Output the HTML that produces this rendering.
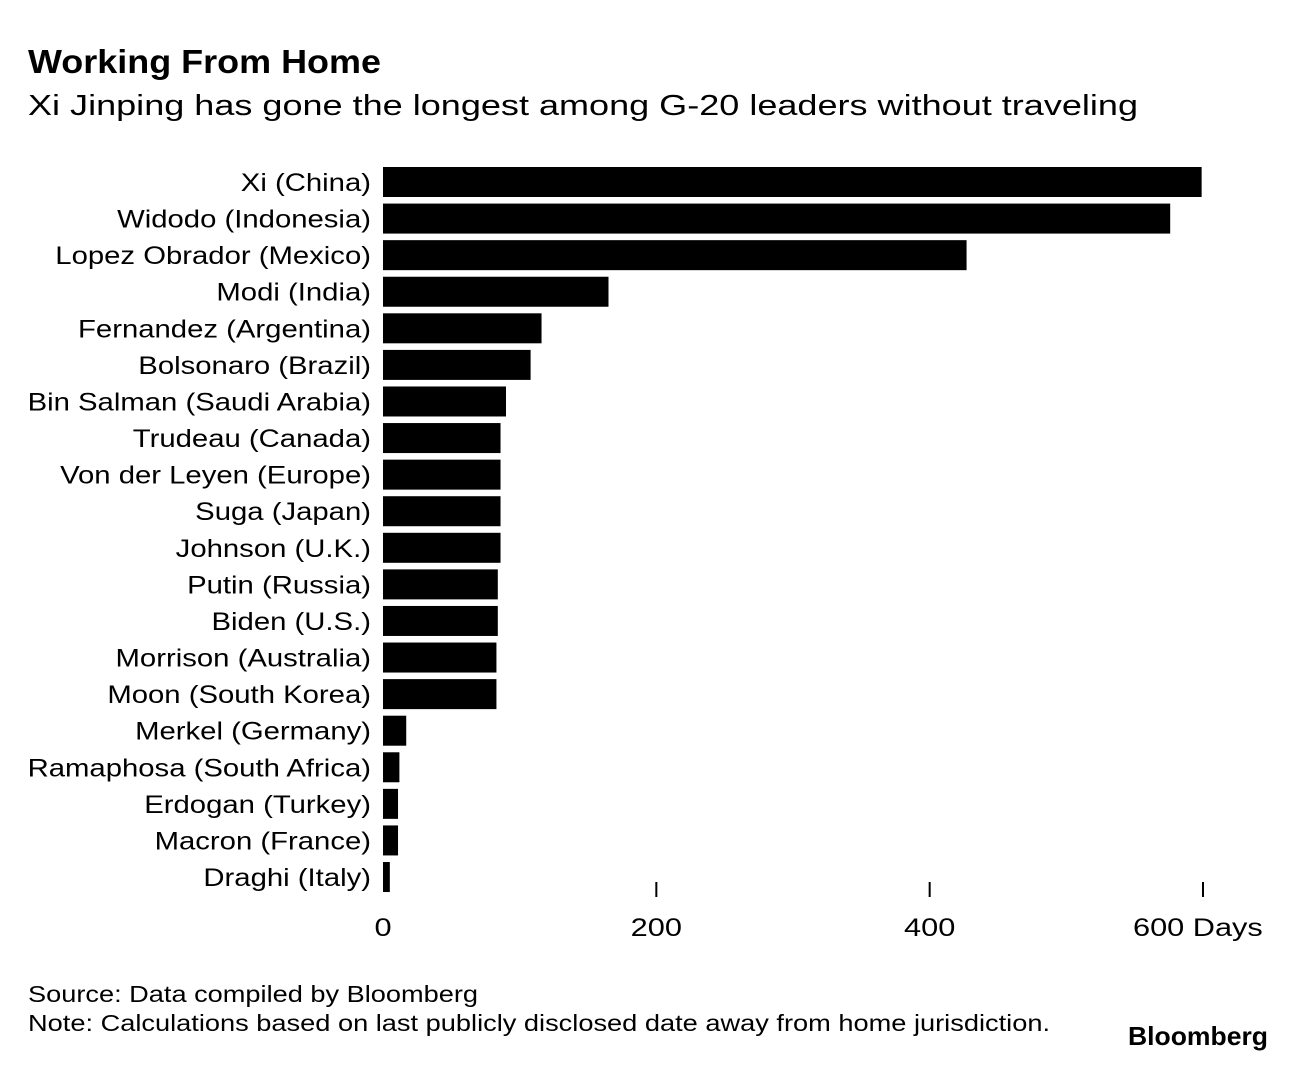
<!DOCTYPE html>
<html><head><meta charset="utf-8"><style>
body{margin:0;background:#fff;width:1296px;height:1062px;overflow:hidden;font-family:"Liberation Sans",sans-serif;color:#000}
</style></head><body>
<svg width="1296" height="1062">
<text x="28" y="73" font-size="33" font-weight="bold" textLength="353" lengthAdjust="spacingAndGlyphs">Working From Home</text>
<text x="28" y="115" font-size="29" textLength="1110" lengthAdjust="spacingAndGlyphs">Xi Jinping has gone the longest among G-20 leaders without traveling</text>
<g id="bars"></g>
<g id="axis"></g>
<text x="28" y="1002" font-size="23" textLength="450" lengthAdjust="spacingAndGlyphs">Source: Data compiled by Bloomberg</text>
<text x="28" y="1031" font-size="23" textLength="1022" lengthAdjust="spacingAndGlyphs">Note: Calculations based on last publicly disclosed date away from home jurisdiction.</text>
<text x="1128" y="1045" font-size="26" font-weight="bold" textLength="140" lengthAdjust="spacingAndGlyphs">Bloomberg</text>
</svg>
<script>
const leaders=["Xi (China)","Widodo (Indonesia)","Lopez Obrador (Mexico)","Modi (India)","Fernandez (Argentina)","Bolsonaro (Brazil)","Bin Salman (Saudi Arabia)","Trudeau (Canada)","Von der Leyen (Europe)","Suga (Japan)","Johnson (U.K.)","Putin (Russia)","Biden (U.S.)","Morrison (Australia)","Moon (South Korea)","Merkel (Germany)","Ramaphosa (South Africa)","Erdogan (Turkey)","Macron (France)","Draghi (Italy)"];
const days=[599,576,427,165,116,108,90,86,86,86,86,84,84,83,83,17,12,11,11,5];
const ticks=[0,200,400,600];
const tickLabels=["0","200","400","600 Days"];
const NS="http://www.w3.org/2000/svg";
const x=v=>383+v*(1203-383)/600;
const y=i=>167+i*36.58;
const bh=30;
const gb=document.getElementById('bars'),ga=document.getElementById('axis');
function stretch(t,f){const w=t.getComputedTextLength();t.setAttribute('textLength',w*f);t.setAttribute('lengthAdjust','spacingAndGlyphs');}
leaders.forEach((n,i)=>{
 const r=document.createElementNS(NS,'rect');
 r.setAttribute('x',x(0));r.setAttribute('y',y(i));r.setAttribute('width',x(days[i])-x(0));r.setAttribute('height',bh);r.setAttribute('fill','#000');
 
 
 gb.appendChild(r);
 const t=document.createElementNS(NS,'text');
 t.setAttribute('x',371);t.setAttribute('y',y(i)+bh/2+9);t.setAttribute('text-anchor','end');t.setAttribute('font-size','25');t.textContent=n;
 
 
 gb.appendChild(t);
 stretch(t,1.22*24/25);
});
ticks.forEach((v,i)=>{
 if(v>0){const l=document.createElementNS(NS,'line');
 l.setAttribute('x1',x(v));l.setAttribute('x2',x(v));l.setAttribute('y1',882);l.setAttribute('y2',897);l.setAttribute('stroke','#000');l.setAttribute('stroke-width','2');
 
 
 ga.appendChild(l);}
 const t=document.createElementNS(NS,'text');
 t.setAttribute('x',i===3?x(v)-70:x(v));t.setAttribute('y',936);t.setAttribute('font-size','25');
 t.setAttribute('text-anchor',i===3?'start':'middle');t.textContent=tickLabels[i];
 
 
 ga.appendChild(t);
 stretch(t,1.28*24/25);
});
</script>
</body></html>
